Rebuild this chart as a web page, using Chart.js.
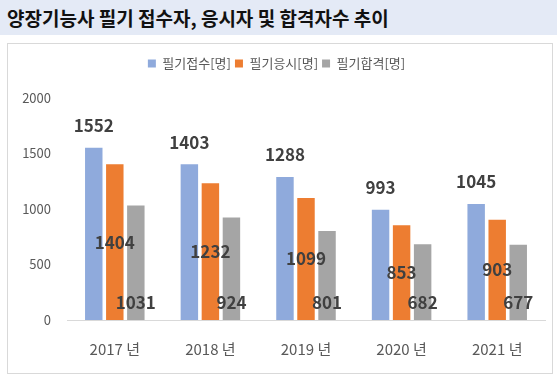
<!DOCTYPE html>
<html><head><meta charset="utf-8">
<script src="https://cdn.jsdelivr.net/npm/chart.js@4"></script>
<style>
html,body{margin:0;padding:0;background:#fff;width:557px;height:382px;overflow:hidden;font-family:"Noto Sans CJK KR","Noto Sans",sans-serif;}
#band{position:absolute;left:0;top:0;width:557px;height:35px;background:#E4EAF6;}
#title{position:absolute;left:7px;top:4px;font-size:19px;font-weight:bold;color:#111;white-space:nowrap;line-height:27px;}
#box{position:absolute;left:7px;top:43px;width:546px;height:331px;box-sizing:border-box;border:1px solid #D9D9D9;}
#wrap{position:absolute;left:0;top:0;width:544px;height:329px;}
</style></head><body>
<div id="band"><div id="title">양장기능사 필기 접수자, 응시자 및 합격자수 추이</div></div>
<div id="box"><div id="wrap"><canvas id="c"></canvas></div></div>
<script>
const categories = ['2017 년','2018 년','2019 년','2020 년','2021 년'];
const seriesNames = ['필기접수[명]','필기응시[명]','필기합격[명]'];
const applied = [1552,1403,1288,993,1045];
const tested = [1404,1232,1099,853,903];
const passed = [1031,924,801,682,677];
const yTicks = [0,500,1000,1500,2000];
const colors = ['#8FAADC','#ED7D31','#A5A5A5'];

const legendMargin = {
  id:'legendMargin',
  beforeInit(chart){
    const fit = chart.legend.fit;
    chart.legend.fit = function(){ fit.bind(chart.legend)(); this.height += 18; };
  }
};
const valueLabels = {
  id:'valueLabels',
  afterDatasetsDraw(chart){
    const ctx = chart.ctx;
    ctx.save();
    ctx.font = 'bold 17px "Noto Sans CJK KR","Noto Sans",sans-serif';
    ctx.fillStyle = '#404040';
    ctx.textAlign = 'center';
    ctx.textBaseline = 'middle';
    chart.data.datasets.forEach((ds, di) => {
      const meta = chart.getDatasetMeta(di);
      meta.data.forEach((bar, i) => {
        const v = ds.data[i];
        let y;
        if (di === 0) y = bar.y - 22;
        else if (di === 1) y = (bar.y + bar.base) / 2;
        else y = bar.base - 17;
        ctx.fillText(String(v), bar.x, y);
      });
    });
    ctx.restore();
  }
};

new Chart(document.getElementById('c'), {
  type:'bar',
  data:{
    labels: categories,
    datasets:[
      {label:seriesNames[0], data:applied, backgroundColor:colors[0]},
      {label:seriesNames[1], data:tested, backgroundColor:colors[1]},
      {label:seriesNames[2], data:passed, backgroundColor:colors[2]}
    ]
  },
  options:{
    responsive:true, maintainAspectRatio:false, animation:false,
    layout:{padding:{top:9,right:7,left:0,bottom:0}},
    datasets:{bar:{categoryPercentage:0.66, barPercentage:0.83}},
    plugins:{
      legend:{position:'top', labels:{boxWidth:8, boxHeight:8, padding:4, color:'#595959', font:{size:13, family:'"Noto Sans CJK KR","Noto Sans",sans-serif'}}},
      tooltip:{enabled:false}
    },
    scales:{
      x:{
        grid:{display:false, drawTicks:false},
        border:{display:true, color:'#D9D9D9', width:1},
        ticks:{color:'#595959', padding:20, font:{size:15, family:'"Noto Sans CJK KR","Noto Sans",sans-serif'}},
        afterFit(s){ s.height = 53; }
      },
      y:{
        min:0, max:2000,
        grid:{display:false, drawTicks:false},
        border:{display:false},
        afterBuildTicks(s){ s.ticks = yTicks.map(v => ({value:v})); },
        ticks:{color:'#595959', padding:16, font:{size:13, family:'"Noto Sans CJK KR","Noto Sans",sans-serif'}, callback:(v) => String(v)},
        afterFit(s){ s.width = 59; }
      }
    }
  },
  plugins:[legendMargin, valueLabels]
});
</script>
</body></html>
